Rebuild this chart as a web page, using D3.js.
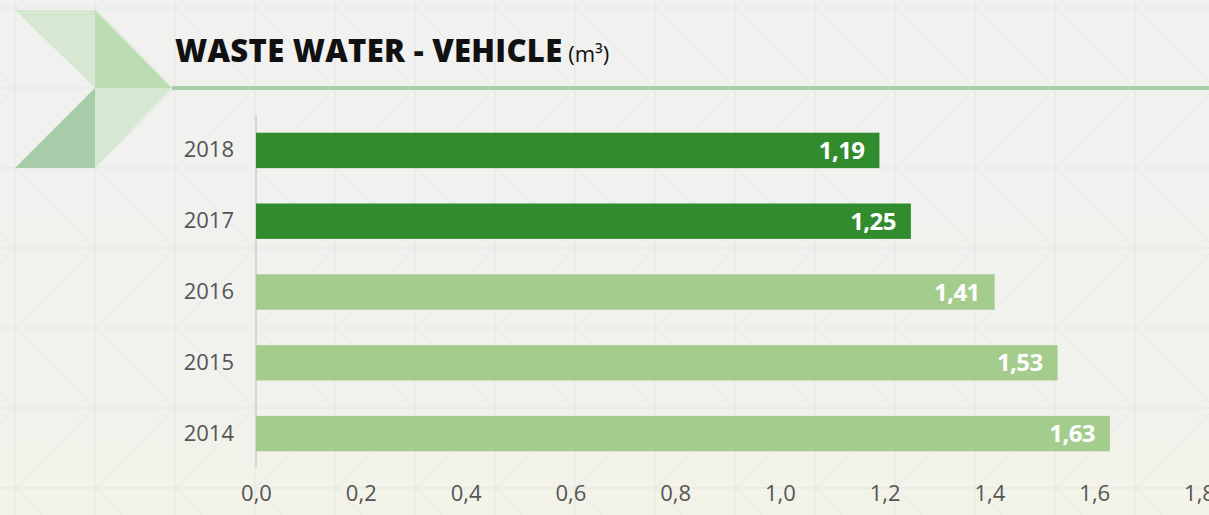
<!DOCTYPE html>
<html><head><meta charset="utf-8">
<script src="https://cdn.jsdelivr.net/npm/d3@7"></script>
<style>
html,body{margin:0;padding:0;background:#f1f1ef;}
svg{display:block;font-family:"Open Sans","Noto Sans",sans-serif;}
</style></head>
<body>
<svg id="c" width="1209" height="515"></svg>
<script>
const years = ["2018","2017","2016","2015","2014"];
const values = [1.19, 1.25, 1.41, 1.53, 1.63];
const highlight = ["2018","2017"];
const xTicks = [0,0.2,0.4,0.6,0.8,1.0,1.2,1.4,1.6,1.8];
const titleMain = "WASTE WATER - VEHICLE";
const titleUnit = "(m³)";

const W = 1209, H = 515;
const svg = d3.select("#c");

// background
const defs = svg.append("defs");
const g1 = defs.append("linearGradient").attr("id","bg").attr("x1",0).attr("y1",0).attr("x2",0).attr("y2",1);
g1.append("stop").attr("offset","0%").attr("stop-color","#f1f1f0");
g1.append("stop").attr("offset","70%").attr("stop-color","#f1f1ee");
g1.append("stop").attr("offset","100%").attr("stop-color","#f3f3e9");
svg.append("rect").attr("width",W).attr("height",H).attr("fill","url(#bg)");

// decorative grid
const grid = svg.append("g").attr("stroke","#e5e5e3").attr("stroke-width",1).attr("fill","none");
const cell = 80, ox = 15, oy = 8;
for (let x = ox - cell; x <= W + cell; x += cell) grid.append("line").attr("x1",x).attr("x2",x).attr("y1",0).attr("y2",H);
for (let y = oy - cell, r = -1; y <= H + cell; y += cell, r++) {
  grid.append("line").attr("x1",0).attr("x2",W).attr("y1",y).attr("y2",y);
  for (let x = ox - cell; x <= W + cell; x += cell) {
    if (r % 2 === 0) grid.append("line").attr("x1",x).attr("y1",y).attr("x2",x+cell).attr("y2",y+cell);
    else grid.append("line").attr("x1",x).attr("y1",y+cell).attr("x2",x+cell).attr("y2",y);
  }
}

// chevron decoration
const chev = svg.append("g");
chev.append("polygon").attr("points","15,10 95,10 95,88").attr("fill","#d6e8d1");
chev.append("polygon").attr("points","95,10 172,88 95,88").attr("fill","#bcdcb3");
chev.append("polygon").attr("points","95,88 172,88 95,168").attr("fill","#d6e8d1");
chev.append("polygon").attr("points","95,88 95,168 15,168").attr("fill","#a6cca9");

// title
const t = svg.append("text").attr("x",175).attr("y",62);
t.append("tspan").text(titleMain).attr("font-size",31).attr("font-weight",800).attr("letter-spacing","0.3").attr("fill","#111");
t.append("tspan").text(" " + titleUnit).attr("font-size",22).attr("fill","#111");
svg.append("rect").attr("x",172).attr("y",86).attr("width",W-172).attr("height",4).attr("fill","#a9cfa9");

// scales
const x = d3.scaleLinear().domain([0,1.8]).range([256,1199]);
const y = d3.scaleBand().domain(years).range([115,469]).paddingInner(0.5).paddingOuter(0.25);

// y axis line
svg.append("line").attr("x1",x(0)).attr("x2",x(0)).attr("y1",115).attr("y2",467).attr("stroke","#d6d6d4").attr("stroke-width",2);

// bars
const data = years.map((yr,i)=>({yr, v: values[i]}));
svg.append("g").selectAll("rect").data(data).join("rect")
  .attr("x", x(0)).attr("y", d=>y(d.yr)).attr("width", d=>x(d.v)-x(0)).attr("height", y.bandwidth())
  .attr("fill", d=> highlight.includes(d.yr) ? "#318c2e" : "#a4cd8d");

// value labels
const fmt = v => d3.format(".2f")(v).replace(".", ",");
svg.append("g").selectAll("text").data(data).join("text")
  .attr("x", d=>x(d.v)-15).attr("y", d=>y(d.yr)+y.bandwidth()/2).attr("dy","0.36em")
  .attr("text-anchor","end").attr("fill","#fff").attr("font-weight",700).attr("font-size",24).attr("letter-spacing","-0.6")
  .text(d=>fmt(d.v));

// y labels
const yAxis = d3.axisLeft(y).tickSize(0).tickPadding(22);
const ya = svg.append("g").attr("transform",`translate(${x(0)},0)`).call(yAxis);
ya.select(".domain").remove();
ya.selectAll("text").attr("font-size",22).attr("fill","#555").attr("font-family","'Open Sans',sans-serif");

// x labels
const xAxis = d3.axisBottom(x).tickValues(xTicks).tickSize(0).tickPadding(0).tickFormat(d=>d3.format(".1f")(d).replace(".", ","));
const xa = svg.append("g").attr("transform",`translate(0,485)`).call(xAxis);
xa.select(".domain").remove();
xa.selectAll("text").attr("font-size",22).attr("fill","#555").attr("font-family","'Open Sans',sans-serif");
</script>
</body></html>
